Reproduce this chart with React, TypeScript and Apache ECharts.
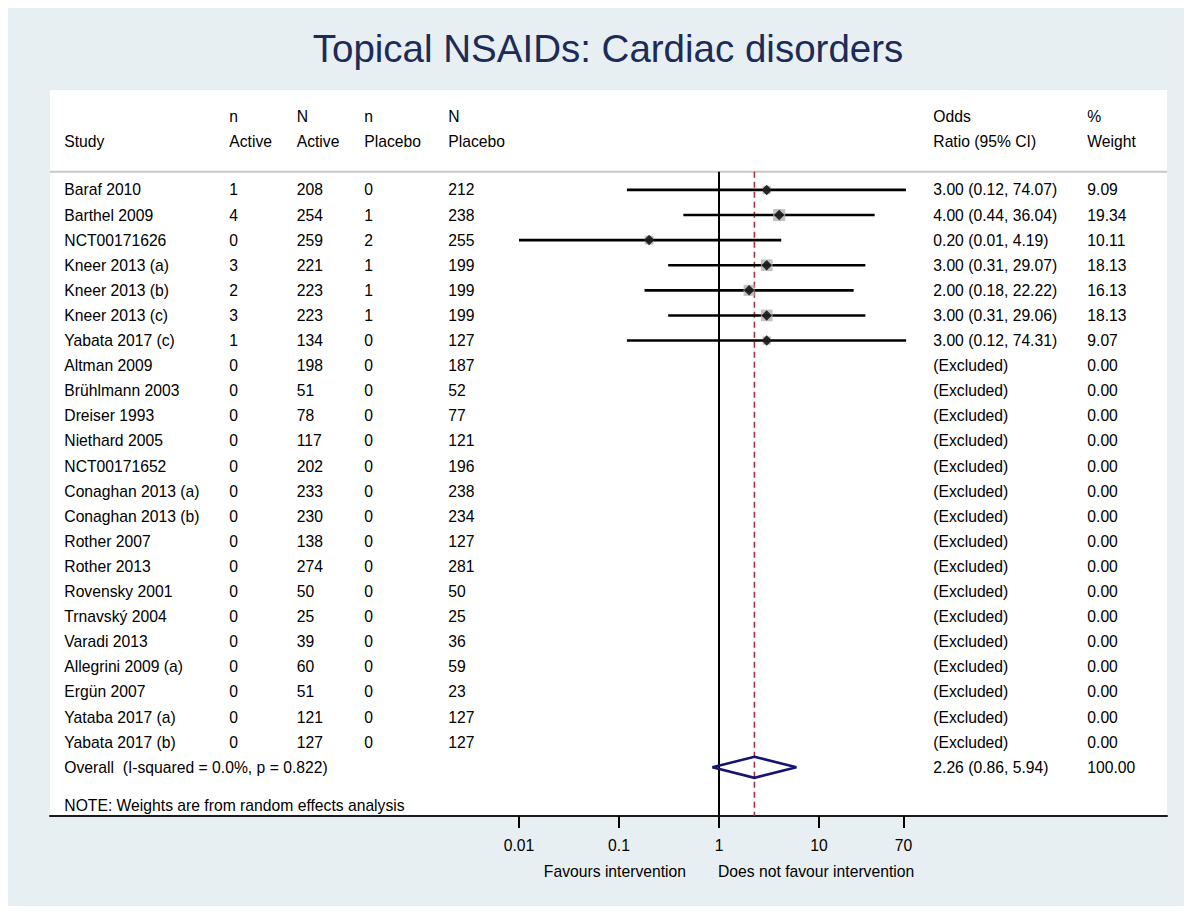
import React, { useEffect, useRef } from "react";
import * as echarts from "echarts";

const titleText = "Topical NSAIDs: Cardiac disorders";

const studies = [
  "Baraf 2010", "Barthel 2009", "NCT00171626", "Kneer 2013 (a)", "Kneer 2013 (b)",
  "Kneer 2013 (c)", "Yabata 2017 (c)", "Altman 2009", "Brühlmann 2003", "Dreiser 1993",
  "Niethard 2005", "NCT00171652", "Conaghan 2013 (a)", "Conaghan 2013 (b)", "Rother 2007",
  "Rother 2013", "Rovensky 2001", "Trnavský 2004", "Varadi 2013", "Allegrini 2009 (a)",
  "Ergün 2007", "Yataba 2017 (a)", "Yabata 2017 (b)",
];
const nActive = [1, 4, 0, 3, 2, 3, 1, 0, 0, 0, 0, 0, 0, 0, 0, 0, 0, 0, 0, 0, 0, 0, 0];
const NActive = [208, 254, 259, 221, 223, 223, 134, 198, 51, 78, 117, 202, 233, 230, 138, 274, 50, 25, 39, 60, 51, 121, 127];
const nPlacebo = [0, 1, 2, 1, 1, 1, 0, 0, 0, 0, 0, 0, 0, 0, 0, 0, 0, 0, 0, 0, 0, 0, 0];
const NPlacebo = [212, 238, 255, 199, 199, 199, 127, 187, 52, 77, 121, 196, 238, 234, 127, 281, 50, 25, 36, 59, 23, 127, 127];
const oddsRatio: (number | null)[] = [3.0, 4.0, 0.2, 3.0, 2.0, 3.0, 3.0, null, null, null, null, null, null, null, null, null, null, null, null, null, null, null, null];
const ciLow: (number | null)[] = [0.12, 0.44, 0.01, 0.31, 0.18, 0.31, 0.12, null, null, null, null, null, null, null, null, null, null, null, null, null, null, null, null];
const ciHigh: (number | null)[] = [74.07, 36.04, 4.19, 29.07, 22.22, 29.06, 74.31, null, null, null, null, null, null, null, null, null, null, null, null, null, null, null, null];
const weights = [9.09, 19.34, 10.11, 18.13, 16.13, 18.13, 9.07, 0, 0, 0, 0, 0, 0, 0, 0, 0, 0, 0, 0, 0, 0, 0, 0];

const overallLabel = "Overall  (I-squared = 0.0%, p = 0.822)";
const overallOR = 2.26;
const overallLow = 0.86;
const overallHigh = 5.94;
const overallWeight = 100.0;
const noteText = "NOTE: Weights are from random effects analysis";

const headerTop = ["", "n", "N", "n", "N", "Odds", "%"];
const headerBottom = ["Study", "Active", "Active", "Placebo", "Placebo", "Ratio (95% CI)", "Weight"];

const tickValues = [0.01, 0.1, 1, 10, 70];
const favoursLeft = "Favours intervention";
const favoursRight = "Does not favour intervention";

const FONT = "'Liberation Sans', Arial, Helvetica, sans-serif";
const FS = 15.7;

export default function App() {
  const ref = useRef<HTMLDivElement>(null);
  useEffect(() => {
    const chart = echarts.init(ref.current!, null, { renderer: "svg" });
    const L = Math.log10;
    const nRows = studies.length;
    const overallRow = nRows;
    const noteRow = 24.54;
    const headerRowTop = -2.91;
    const headerRowBottom = -1.91;
    const ruleRow = -0.72;
    const yMin = -3.98;
    const yMax = 24.94;

    const colX = [56.3, 221.3, 288.7, 356.3, 440.3, 925.3, 1079.3];

    const fmt = (v: number) => v.toFixed(2);
    const textRows: { row: number; cells: string[] }[] = [];
    textRows.push({ row: headerRowTop, cells: headerTop });
    textRows.push({ row: headerRowBottom, cells: headerBottom });
    studies.forEach((s, i) => {
      const o = oddsRatio[i];
      const orText = o == null ? "(Excluded)" : `${fmt(o)} (${fmt(ciLow[i] as number)}, ${fmt(ciHigh[i] as number)})`;
      textRows.push({
        row: i,
        cells: [s, String(nActive[i]), String(NActive[i]), String(nPlacebo[i]), String(NPlacebo[i]), orText, fmt(weights[i])],
      });
    });
    textRows.push({
      row: overallRow,
      cells: [overallLabel, "", "", "", "", `${fmt(overallOR)} (${fmt(overallLow)}, ${fmt(overallHigh)})`, fmt(overallWeight)],
    });
    textRows.push({ row: noteRow, cells: [noteText, "", "", "", "", "", ""] });

    const ciData: number[][] = [];
    const markData: number[][] = [];
    const squareData: { value: number[]; symbolSize: number }[] = [];
    studies.forEach((s, i) => {
      const o = oddsRatio[i];
      if (o == null) return;
      ciData.push([L(ciLow[i] as number), L(ciHigh[i] as number), i]);
      markData.push([L(o), i]);
      squareData.push({ value: [L(o), i], symbolSize: 2.75 * Math.sqrt(weights[i]) });
    });

    const tickLogs = tickValues.map((v) => L(v));

    const option: any = {
      animation: false,
      backgroundColor: "#e8eff2",
      title: {
        text: titleText,
        left: 595,
        top: 16,
        textAlign: "center",
        textStyle: { fontFamily: FONT, fontSize: 38.5, fontWeight: "normal", color: "#1c2b57" },
      },
      grid: {
        left: 42,
        top: 82,
        width: 1117,
        height: 726,
        show: true,
        backgroundColor: "#ffffff",
        borderWidth: 0,
        containLabel: false,
      },
      xAxis: {
        type: "value",
        min: -6.69,
        max: 4.48,
        splitLine: { show: false },
        axisLine: { show: true, onZero: false, lineStyle: { color: "#1a1a1a", width: 2 } },
        axisTick: { show: true, customValues: tickLogs, length: 12, lineStyle: { color: "#000", width: 2 } },
        axisLabel: {
          show: true,
          customValues: tickLogs,
          margin: 21,
          color: "#000",
          fontFamily: FONT,
          fontSize: FS,
          formatter: (v: number) => {
            let best = 0;
            tickLogs.forEach((t, k) => {
              if (Math.abs(t - v) < Math.abs(tickLogs[best] - v)) best = k;
            });
            return String(tickValues[best]);
          },
        },
      },
      yAxis: {
        type: "value",
        min: yMin,
        max: yMax,
        inverse: true,
        show: false,
      },
      graphic: [
        {
          type: "line",
          shape: { x1: 42, y1: 163.8, x2: 1159, y2: 163.8 },
          style: { stroke: "#c8c8c8", lineWidth: 2 },
          z: 1,
        },
        {
          type: "text",
          x: 678,
          y: 863,
          style: {
            text: favoursLeft,
            fill: "#000",
            font: `${FS}px ${FONT}`,
            textAlign: "right",
            textVerticalAlign: "middle",
            align: "right",
            verticalAlign: "middle",
          },
        },
        {
          type: "text",
          x: 710,
          y: 863,
          style: {
            text: favoursRight,
            fill: "#000",
            font: `${FS}px ${FONT}`,
            textAlign: "left",
            textVerticalAlign: "middle",
            align: "left",
            verticalAlign: "middle",
          },
        },
      ],
      series: [
        {
          type: "line",
          data: [[0, ruleRow], [0, yMax]],
          symbol: "none",
          lineStyle: { color: "#000", width: 2 },
          z: 2,
          silent: true,
        },
        {
          type: "line",
          data: [[L(overallOR), ruleRow], [L(overallOR), yMax]],
          symbol: "none",
          lineStyle: { color: "#a8323e", width: 1.6, type: [6, 4] },
          z: 3,
          silent: true,
        },
        {
          type: "custom",
          data: ciData,
          encode: { x: [0, 1], y: 2 },
          z: 4,
          renderItem: (params: any, api: any) => {
            const p1 = api.coord([api.value(0), api.value(2)]);
            const p2 = api.coord([api.value(1), api.value(2)]);
            return {
              type: "line",
              shape: { x1: p1[0], y1: p1[1], x2: p2[0], y2: p2[1] },
              style: { stroke: "#000", lineWidth: 2.6 },
            };
          },
        },
        {
          type: "scatter",
          data: squareData,
          symbol: "rect",
          itemStyle: { color: "#b3b3b3" },
          z: 5,
        },
        {
          type: "scatter",
          data: markData,
          symbol: "diamond",
          symbolSize: 10.5,
          itemStyle: { color: "#000" },
          z: 6,
        },
        {
          type: "custom",
          data: [[L(overallLow), L(overallOR), L(overallHigh), overallRow]],
          encode: { x: [0, 1, 2], y: 3 },
          z: 6,
          renderItem: (params: any, api: any) => {
            const r = api.value(3);
            const a = api.coord([api.value(0), r]);
            const b = api.coord([api.value(1), r - 0.42]);
            const c = api.coord([api.value(2), r]);
            const d = api.coord([api.value(1), r + 0.42]);
            return {
              type: "polygon",
              shape: { points: [a, b, c, d] },
              style: { fill: "none", stroke: "#151570", lineWidth: 2.6 },
            };
          },
        },
        {
          type: "custom",
          data: textRows.map((t) => [0, t.row]),
          encode: { x: 0, y: 1 },
          z: 7,
          renderItem: (params: any, api: any) => {
            const row = textRows[params.dataIndex];
            const y = api.coord([0, api.value(1)])[1];
            const children: any[] = [];
            row.cells.forEach((txt, k) => {
              if (!txt) return;
              children.push({
                type: "text",
                x: colX[k],
                y,
                style: {
                  text: txt,
                  fill: "#000",
                  font: `${FS}px ${FONT}`,
                  textAlign: "left",
                  textVerticalAlign: "middle",
                  align: "left",
                  verticalAlign: "middle",
                },
              });
            });
            return { type: "group", children };
          },
        },
      ],
    };
    chart.setOption(option);
    return () => chart.dispose();
  }, []);
  return <div ref={ref} style={{ width: 1176, height: 898 }} />;
}
